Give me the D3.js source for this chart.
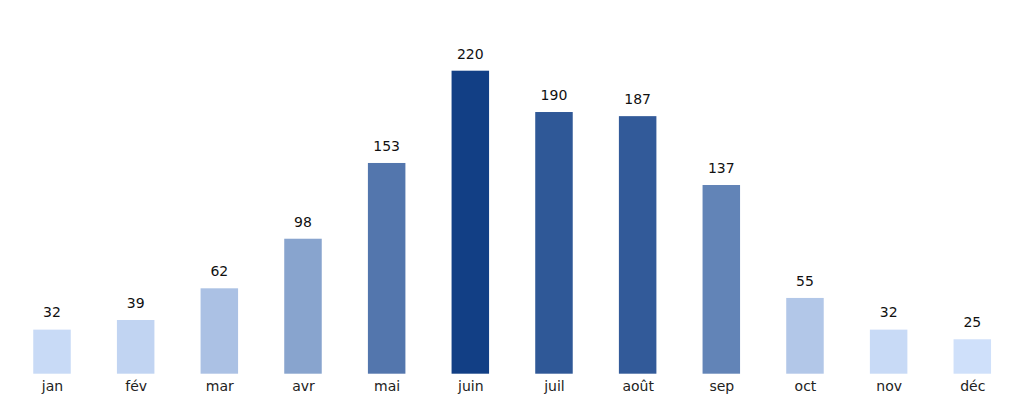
<!DOCTYPE html>
<html><head><meta charset="utf-8">
<script src="https://cdn.jsdelivr.net/npm/d3@7"></script>
<style>html,body{margin:0;padding:0;background:#fff;}svg{display:block;}</style>
</head><body>
<svg id="chart" width="1024" height="404"></svg>
<script>
const months = ["jan","fév","mar","avr","mai","juin","juil","août","sep","oct","nov","déc"];
const values = [32,39,62,98,153,220,190,187,137,55,32,25];

const svg = d3.select("#chart");
const baseY = 373.7, topY = 70.7;
const x = d3.scalePoint().domain(months).range([52, 972.3]);
const barW = 37.5;
const y = d3.scaleLinear().domain([0, d3.max(values)]).range([baseY, topY]);
const color = d3.scaleLinear().domain([d3.min(values), d3.max(values)])
  .range(["#cfe0fa", "#123f85"]).interpolate(d3.interpolateRgb);

const data = months.map((m, i) => ({m, v: values[i]}));

svg.selectAll("rect.bar").data(data).join("rect")
  .attr("class", "bar")
  .attr("x", d => x(d.m) - barW / 2)
  .attr("width", barW)
  .attr("y", d => y(d.v))
  .attr("height", d => baseY - y(d.v))
  .attr("fill", d => color(d.v));

svg.selectAll("text.val").data(data).join("text")
  .attr("class", "val")
  .attr("x", d => x(d.m))
  .attr("y", d => y(d.v) - 12.2)
  .attr("text-anchor", "middle")
  .attr("font-family", "DejaVu Sans")
  .attr("font-size", 14)
  .attr("fill", "#111")
  .text(d => d.v);

const axis = d3.axisBottom(x).tickSize(0).tickPadding(0);
const g = svg.append("g").attr("transform", `translate(0,${baseY})`).call(axis);
g.select(".domain").remove();
g.selectAll("text")
  .attr("font-family", "DejaVu Sans")
  .attr("font-size", 14)
  .attr("fill", "#222")
  .attr("dy", null)
  .attr("y", 17);
</script>
</body></html>
